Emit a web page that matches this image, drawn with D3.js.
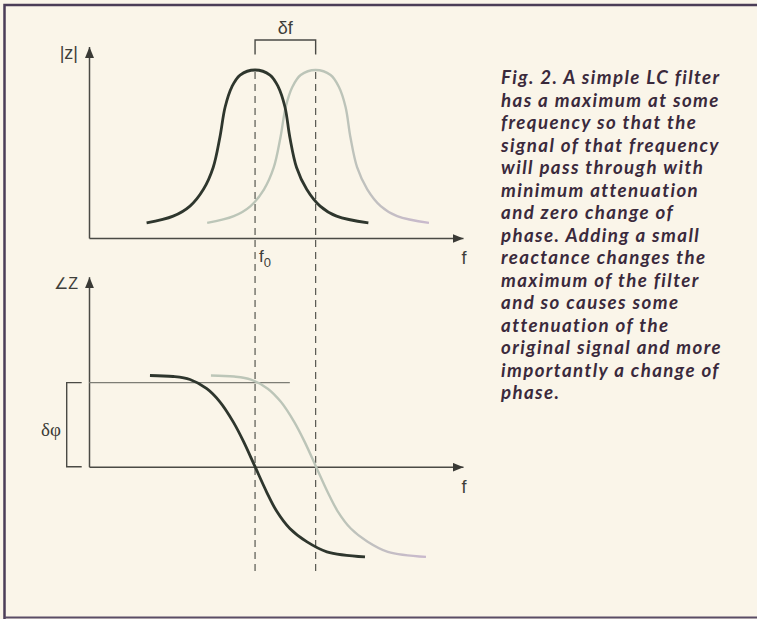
<!DOCTYPE html>
<html>
<head>
<meta charset="utf-8">
<script src="https://cdn.jsdelivr.net/npm/d3@7"></script>
<style>
    html, body { margin: 0; padding: 0; background: #f9f4e7; overflow: hidden; }
    svg { display: block; }
    .lbl { font-family: "Liberation Sans", Arial, sans-serif; fill: #3e3e3a; }
    .caption { font-family: Lato, "Open Sans", sans-serif; font-weight: 700; font-style: italic; fill: #3a2a3c; letter-spacing: 1.4px; }
</style>
</head>
<body>
<div id="chart"></div>
<script>
// upper panel : |Z| against f (frequency in arbitrary units 0..100)
var magFreq       = [15.4, 22.5, 27.0, 30.6, 33.2, 35.0, 36.4, 38.2, 40.4, 44.4, 48.4, 50.6, 52.4, 53.7, 55.5, 58.2, 61.8, 66.2, 74.7];
var magDark       = [0.09, 0.13, 0.19, 0.29, 0.42, 0.60, 0.78, 0.90, 0.97, 1.00, 0.97, 0.90, 0.78, 0.60, 0.42, 0.29, 0.19, 0.13, 0.09];
var magShiftFreq  = [31.6, 38.7, 43.2, 46.8, 49.4, 51.2, 52.6, 54.4, 56.6, 60.6, 64.6, 66.8, 68.6, 69.9, 71.7, 74.4, 78.0, 82.4, 90.9];
var magShift      = [0.09, 0.13, 0.19, 0.29, 0.42, 0.60, 0.78, 0.90, 0.97, 1.00, 0.97, 0.90, 0.78, 0.60, 0.42, 0.29, 0.19, 0.13, 0.09];

// lower panel : phase of Z (degrees)
var phaseFreq      = [16.3, 22.5, 27.0, 31.5, 35.0, 38.6, 41.3, 44.4, 47.5, 50.2, 53.7, 58.2, 63.6, 73.8];
var phaseDark      = [90, 89, 86, 77, 64, 44, 25, 0, -25, -44, -61, -74, -84, -89];
var phaseShiftFreq = [32.6, 38.8, 43.3, 47.8, 51.3, 54.9, 57.6, 60.7, 63.8, 66.5, 70.0, 74.5, 79.9, 90.1];
var phaseShift     = [90, 89, 86, 77, 64, 44, 25, 0, -25, -44, -61, -74, -84, -89];

var f0 = 44.4;          // original resonance
var deltaF = 16.2;      // shift from the added reactance
var phaseRef = 83;      // phase level marked by the delta-phi bracket
var phaseRefEnd = 53.7; // where the reference line stops

var captionLines = [
    "Fig. 2. A simple LC filter",
    "has a maximum at some",
    "frequency so that the",
    "signal of that frequency",
    "will pass through with",
    "minimum attenuation",
    "and zero change of",
    "phase. Adding a small",
    "reactance changes the",
    "maximum of the filter",
    "and so causes some",
    "attenuation of the",
    "original signal and more",
    "importantly a change of",
    "phase."
];

var W = 757, H = 619;

var svg = d3.select("#chart").append("svg")
    .attr("width", W)
    .attr("height", H);

svg.append("rect").attr("width", W).attr("height", H).attr("fill", "#faf5e9");

// frame of the magazine box
svg.append("path")
    .attr("d", "M4.5,619V5H757")
    .attr("fill", "none").attr("stroke", "#4b3d57").attr("stroke-width", 2.5);
svg.append("path")
    .attr("d", "M4.5,617.5H757")
    .attr("fill", "none").attr("stroke", "#5a4d66").attr("stroke-width", 2);

var defs = svg.append("defs");
defs.append("marker")
    .attr("id", "arrow")
    .attr("markerUnits", "userSpaceOnUse")
    .attr("markerWidth", 12).attr("markerHeight", 9)
    .attr("refX", 11).attr("refY", 4.5)
    .attr("orient", "auto")
    .append("path")
        .attr("d", "M0,0L11,4.5L0,9Z")
        .attr("fill", "#3a3a36");

var grad = defs.append("linearGradient")
    .attr("id", "lightGrad")
    .attr("x1", "0%").attr("x2", "100%").attr("y1", "0%").attr("y2", "0%");
grad.append("stop").attr("offset", "0%").attr("stop-color", "#bcc6b8");
grad.append("stop").attr("offset", "60%").attr("stop-color", "#bcc4b8");
grad.append("stop").attr("offset", "100%").attr("stop-color", "#c9b9cd");

var x = d3.scaleLinear().domain([0, 100]).range([89, 463]);
var yMag = d3.scaleLinear().domain([0, 1.14]).range([238, 46.5]);
var yPhase = d3.scaleLinear().domain([-90, 187.5]).range([557.9, 276.7]);

function styleAxis(g) {
    g.select(".domain")
        .attr("stroke", "#4a4a45")
        .attr("stroke-width", 1.5)
        .attr("marker-end", "url(#arrow)");
}

// upper axes
svg.append("g")
    .attr("transform", "translate(0," + yMag(0) + ")")
    .call(d3.axisBottom(x).tickValues([]).tickSizeOuter(0))
    .call(styleAxis);
svg.append("g")
    .attr("transform", "translate(" + x(0) + ",0)")
    .call(d3.axisLeft(yMag).tickValues([]).tickSizeOuter(0))
    .call(styleAxis);

// lower axes
svg.append("g")
    .attr("transform", "translate(0," + yPhase(0) + ")")
    .call(d3.axisBottom(x).tickValues([]).tickSizeOuter(0))
    .call(styleAxis);
svg.append("g")
    .attr("transform", "translate(" + x(0) + ",0)")
    .call(d3.axisLeft(yPhase.copy().domain([0, 187.5]).range([yPhase(0), yPhase(187.5)])).tickValues([]).tickSizeOuter(0))
    .call(styleAxis);

// dashed guides at f0 and f0 + df
svg.selectAll("line.guide")
    .data([f0, f0 + deltaF])
    .enter()
    .append("line")
        .attr("class", "guide")
        .attr("x1", function (d) { return x(d); })
        .attr("x2", function (d) { return x(d); })
        .attr("y1", yMag(1) + 2)
        .attr("y2", 572)
        .attr("stroke", "#56564f")
        .attr("stroke-width", 1.2)
        .attr("stroke-dasharray", "7,5");

// delta f bracket
svg.append("path")
    .attr("d", "M" + x(f0) + ",54.5V40H" + x(f0 + deltaF) + "V54.5")
    .attr("fill", "none").attr("stroke", "#4a4a45").attr("stroke-width", 1.4);
svg.append("text")
    .attr("class", "lbl")
    .attr("x", x(f0 + deltaF / 2)).attr("y", 34)
    .attr("text-anchor", "middle")
    .style("font-size", "18px")
    .text("δf");

// phase reference line and delta phi bracket
svg.append("line")
    .attr("x1", x(0)).attr("x2", x(phaseRefEnd))
    .attr("y1", yPhase(phaseRef)).attr("y2", yPhase(phaseRef))
    .attr("stroke", "#7d7d75").attr("stroke-width", 1.3);
svg.append("path")
    .attr("d", "M81.7," + yPhase(phaseRef) + "H66.7V" + yPhase(0) + "H81.7")
    .attr("fill", "none").attr("stroke", "#4a4a45").attr("stroke-width", 1.4);
svg.append("text")
    .attr("x", 61).attr("y", 436)
    .attr("text-anchor", "end")
    .style("font-family", "'Liberation Serif', serif")
    .style("font-size", "19px")
    .attr("fill", "#3a3a36")
    .text("δφ");

var magLine = d3.line()
    .x(function (d) { return x(d[0]); })
    .y(function (d) { return yMag(d[1]); })
    .curve(d3.curveCatmullRom.alpha(0.5));
var phaseLine = d3.line()
    .x(function (d) { return x(d[0]); })
    .y(function (d) { return yPhase(d[1]); })
    .curve(d3.curveCatmullRom.alpha(0.5));

function pairs(xs, ys) {
    return xs.map(function (v, i) { return [v, ys[i]]; });
}

// shifted (light) curves first so the dark ones sit above
svg.append("path")
    .datum(pairs(magShiftFreq, magShift))
    .attr("d", magLine)
    .attr("fill", "none").attr("stroke", "url(#lightGrad)").attr("stroke-width", 2.4);
svg.append("path")
    .datum(pairs(phaseShiftFreq, phaseShift))
    .attr("d", phaseLine)
    .attr("fill", "none").attr("stroke", "url(#lightGrad)").attr("stroke-width", 2.4);

svg.append("path")
    .datum(pairs(magFreq, magDark))
    .attr("d", magLine)
    .attr("fill", "none").attr("stroke", "#2e362d").attr("stroke-width", 2.8);
svg.append("path")
    .datum(pairs(phaseFreq, phaseDark))
    .attr("d", phaseLine)
    .attr("fill", "none").attr("stroke", "#2e362d").attr("stroke-width", 2.8);

// axis labels
svg.append("text").attr("class", "lbl")
    .attr("x", 78).attr("y", 59).attr("text-anchor", "end")
    .style("font-size", "18px")
    .text("|z|");
svg.append("text").attr("class", "lbl")
    .attr("x", 78).attr("y", 289).attr("text-anchor", "end")
    .style("font-size", "16px")
    .text("∠Z");

var f0Label = svg.append("text").attr("class", "lbl")
    .attr("x", x(f0) + 4).attr("y", 262)
    .style("font-size", "17px");
f0Label.append("tspan").text("f");
f0Label.append("tspan").attr("dy", 5).style("font-size", "13px").text("0");

svg.selectAll("text.flbl")
    .data([yMag(0), yPhase(0)])
    .enter()
    .append("text")
        .attr("class", "lbl flbl")
        .attr("x", 464).attr("y", function (d) { return d + 26; })
        .attr("text-anchor", "middle")
        .style("font-size", "18px")
        .text("f");

// caption block
svg.append("g")
    .selectAll("text")
    .data(captionLines)
    .enter()
    .append("text")
        .attr("class", "caption")
        .attr("x", 501)
        .attr("y", function (d, i) { return 84 + i * 22.5; })
        .style("font-size", "18.7px")
        .text(function (d) { return d; });
</script>
</body>
</html>
